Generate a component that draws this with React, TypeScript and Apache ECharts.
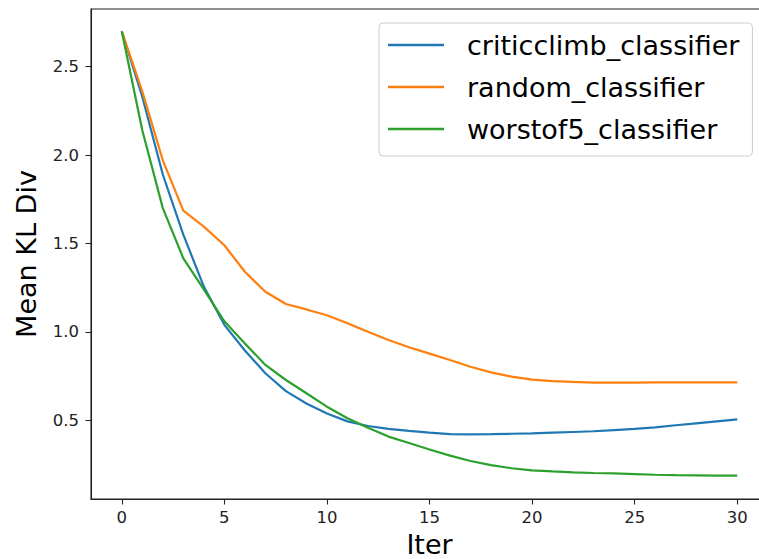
import React, { useEffect, useRef } from "react";
import * as echarts from "echarts";

const iters = [0, 1, 2, 3, 4, 5, 6, 7, 8, 9, 10, 11, 12, 13, 14, 15, 16, 17, 18, 19, 20, 21, 22, 23, 24, 25, 26, 27, 28, 29, 30];

const criticclimb = [2.70, 2.33, 1.89, 1.55, 1.256, 1.04, 0.895, 0.766, 0.665, 0.595, 0.538, 0.494, 0.468, 0.452, 0.440, 0.430, 0.422, 0.421, 0.422, 0.424, 0.426, 0.430, 0.434, 0.438, 0.445, 0.452, 0.460, 0.472, 0.483, 0.494, 0.505];
const randomCls = [2.70, 2.36, 1.97, 1.686, 1.595, 1.49, 1.34, 1.227, 1.158, 1.127, 1.094, 1.049, 1.001, 0.954, 0.913, 0.877, 0.841, 0.803, 0.771, 0.747, 0.730, 0.722, 0.717, 0.713, 0.713, 0.713, 0.714, 0.714, 0.714, 0.714, 0.715];
const worstof5 = [2.70, 2.14, 1.70, 1.416, 1.24, 1.06, 0.935, 0.813, 0.728, 0.653, 0.577, 0.512, 0.458, 0.408, 0.372, 0.335, 0.300, 0.270, 0.247, 0.229, 0.217, 0.211, 0.206, 0.202, 0.200, 0.196, 0.192, 0.190, 0.189, 0.187, 0.187];

const seriesNames = ["criticclimb_classifier", "random_classifier", "worstof5_classifier"];
const seriesColors = ["#1f77b4", "#ff7f0e", "#2ca02c"];
const xTicks = [0, 5, 10, 15, 20, 25, 30];
const yTicks = [0.5, 1.0, 1.5, 2.0, 2.5];

const FONT = "DejaVu Sans";

export default function App() {
  const ref = useRef<HTMLDivElement>(null);
  useEffect(() => {
    if (!ref.current) return;
    const chart = echarts.init(ref.current, undefined, { renderer: "svg" });
    const allValues = [criticclimb, randomCls, worstof5];
    const axisColor = "#222";
    chart.setOption({
      animation: false,
      backgroundColor: "#ffffff",
      textStyle: { fontFamily: FONT },
      grid: {
        left: 91,
        top: 9,
        width: 677,
        height: 490,
        outerBoundsMode: "none",
        containLabel: false,
        show: true,
        borderColor: axisColor,
        borderWidth: 1.1,
        backgroundColor: "transparent",
      },
      legend: {
        orient: "vertical",
        left: 379,
        top: 23,
        padding: [7, 13, 12, 9],
        itemWidth: 56,
        itemHeight: 2.5,
        icon: "rect",
        itemGap: 12,
        borderColor: "#cccccc",
        borderWidth: 1,
        borderRadius: 4,
        backgroundColor: "rgba(255,255,255,0.8)",
        textStyle: { fontSize: 27, fontFamily: FONT, color: "#000", padding: [0, 0, 0, 18], lineHeight: 30 },
        data: seriesNames,
      },
      xAxis: {
        type: "value",
        min: -1.5,
        max: 31.5,
        name: "Iter",
        nameLocation: "middle",
        nameGap: 33,
        nameTextStyle: { fontSize: 27, fontFamily: FONT, color: "#000", lineHeight: 20 },
        axisLine: { show: true, onZero: false, lineStyle: { color: axisColor, width: 1.1 } },
        axisTick: { show: true, length: 5.5, customValues: xTicks, lineStyle: { color: axisColor, width: 1.1 } },
        axisLabel: { customValues: xTicks, fontSize: 16.5, fontFamily: FONT, color: "#222", margin: 10 },
        splitLine: { show: false },
      },
      yAxis: {
        type: "value",
        min: 0.055,
        max: 2.826,
        name: "Mean KL Div",
        nameLocation: "middle",
        nameGap: 51,
        nameTextStyle: { fontSize: 27, fontFamily: FONT, color: "#000" },
        axisLine: { show: true, onZero: false, lineStyle: { color: axisColor, width: 1.1 } },
        axisTick: { show: true, length: 5.5, customValues: yTicks, lineStyle: { color: axisColor, width: 1.1 } },
        axisLabel: {
          customValues: yTicks,
          fontSize: 16.5,
          fontFamily: FONT,
          color: "#222",
          margin: 12,
          formatter: (v: number) => v.toFixed(1),
        },
        splitLine: { show: false },
      },
      series: seriesNames.map((name, k) => ({
        name,
        type: "line",
        symbol: "none",
        showSymbol: false,
        color: seriesColors[k],
        lineStyle: { width: 2.2, color: seriesColors[k] },
        data: iters.map((x, i) => [x, allValues[k][i]]),
      })),
    });
    return () => chart.dispose();
  }, []);
  return (
    <div style={{ position: "absolute", left: 0, top: 0, width: 759, height: 559, overflow: "hidden", background: "#fff" }}>
      <div ref={ref} style={{ position: "absolute", left: 0, top: 0, width: 790, height: 559 }} />
    </div>
  );
}
